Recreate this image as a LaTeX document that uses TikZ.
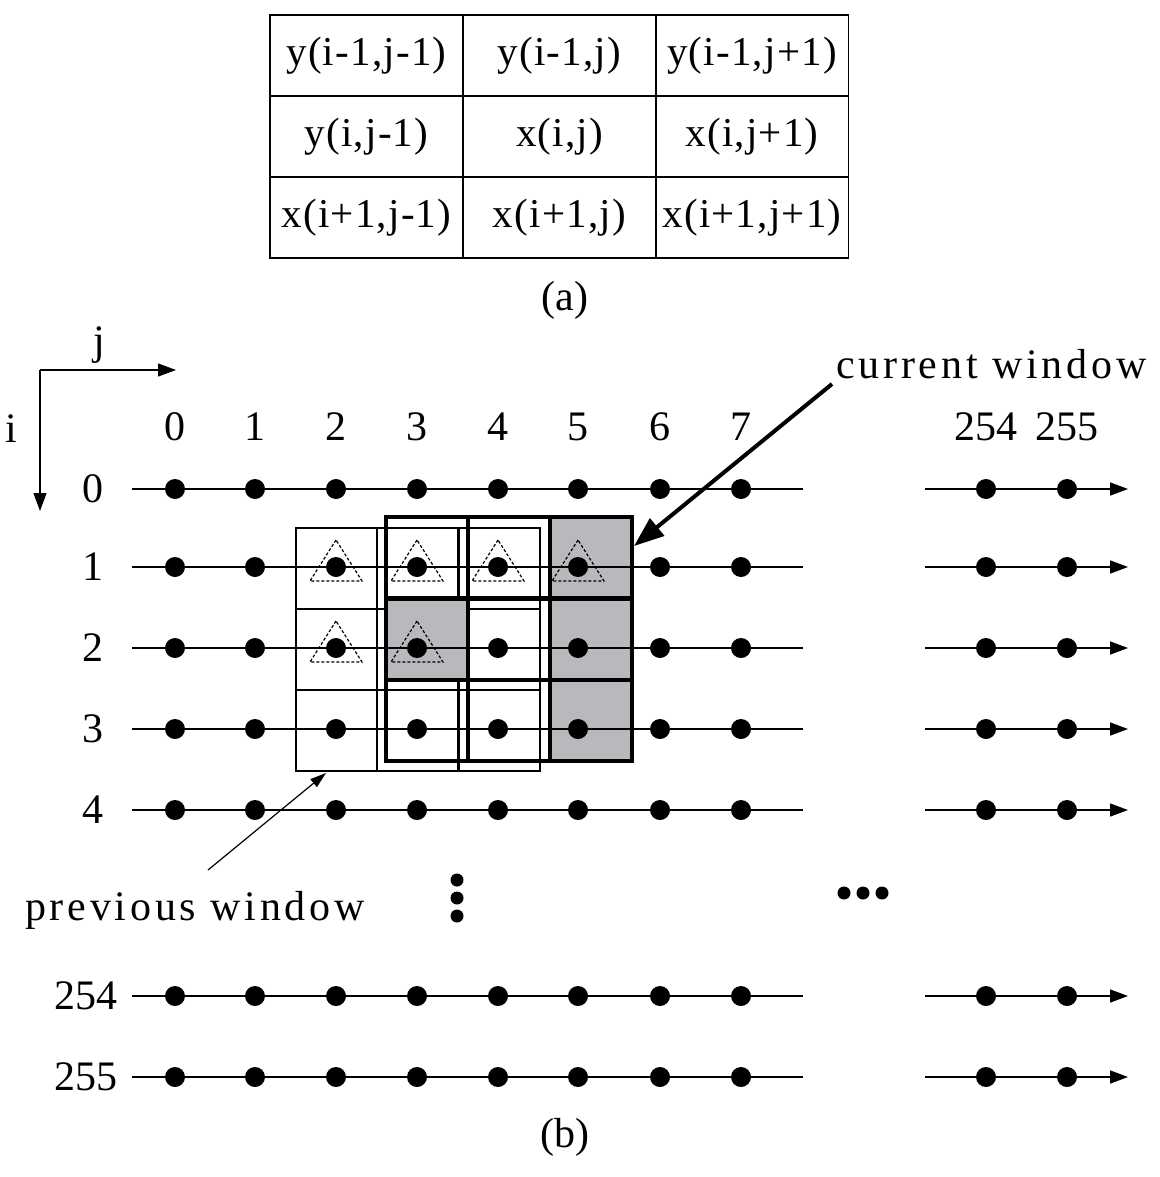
\documentclass[tikz,border=0pt]{standalone}
\usepackage{fontspec}
\setmainfont{Liberation Serif}
\newfontfamily\spacedfont[LetterSpace=9]{Liberation Serif}
\newfontfamily\tablefont[LetterSpace=3]{Liberation Serif}
\usetikzlibrary{arrows.meta,calc}
\definecolor{cellgray}{RGB}{184,185,189}
\begin{document}
\begin{tikzpicture}[x=1pt,y=-1pt,
  lbl/.style={font=\fontsize{42}{44}\selectfont, inner sep=0pt},
  cell/.style={draw, line width=1.2pt, minimum width=193pt, minimum height=81pt, inner sep=0pt, font=\tablefont\fontsize{41}{43}\selectfont},
  dot/.style={circle, fill=black, inner sep=0pt, minimum size=20pt},
  rowline/.style={line width=1.5pt},
  tiparrow/.style={-{Triangle[length=18pt,width=13pt]}},
  thinwin/.style={line width=1.2pt},
  thickwin/.style={line width=4pt},
  tri/.style={draw, line width=1.2pt, dash pattern=on 3pt off 2pt},
  smalldot/.style={circle, fill=black, inner sep=0pt, minimum size=13pt}
]
\useasboundingbox[fill=white] (0,0) rectangle (1159,1177);

% (a) table
\node[cell] (t11) at (366.5,55.5) {y(i-1,j-1)};
\node[cell] (t12) at (559.5,55.5) {y(i-1,j)};
\node[cell] (t13) at (752,55.5) {y(i-1,j+1)};
\node[cell] (t21) at (366.5,136.5) {y(i,j-1)};
\node[cell] (t22) at (559.5,136.5) {x(i,j)};
\node[cell] (t23) at (752,136.5) {x(i,j+1)};
\node[cell] (t31) at (366.5,217.5) {x(i+1,j-1)};
\node[cell] (t32) at (559.5,217.5) {x(i+1,j)};
\node[cell] (t33) at (752,217.5) {x(i+1,j+1)};
\node[lbl] (capa) at (565,300) {(a)};

% axes
\coordinate (orig) at (40,370);
\coordinate (jend) at (176,370);
\coordinate (iend) at (40,511);
\draw[line width=1.2pt, tiparrow] (orig) -- (jend);
\draw[line width=1.2pt, tiparrow] (orig) -- (iend);
\node[lbl, anchor=base] (jlab) at (99,354) {j};
\node[lbl, anchor=base] (ilab) at (11,442) {i};

% column labels
\foreach \c/\x in {0/175,1/255,2/336,3/417,4/498,5/578,6/660,7/741,254/986,255/1067}{
  \node[lbl] (cl\c) at (\x,427) {\c};
}

% previous window (thin)
\foreach \x in {296,377,459}{
  \foreach \y in {528,609,690}{
    \draw[thinwin] (\x,\y) rectangle ++(81,81);
  }
}
% gray cells of current window
\fill[cellgray] (550,517) rectangle (631,760);
\fill[cellgray] (386,599) rectangle (468,680);
% current window (thick)
\foreach \x in {386,468,550}{
  \foreach \y in {517,599,680}{
    \draw[thickwin] (\x,\y) rectangle ++(81.5,81);
  }
}

% rows
\foreach \r/\y/\lx in {0/489/104,1/567/104,2/648/104,3/729/104,4/810/104,254/996/118,255/1077/118}{
  \node[lbl, anchor=east] (rl\r) at (\lx,\y) {\r};
  \coordinate (a\r) at (132,\y);
  \coordinate (b\r) at (803,\y);
  \coordinate (c\r) at (925,\y);
  \coordinate (e\r) at (1128,\y);
  \draw[rowline] (a\r) -- (b\r);
  \draw[rowline, tiparrow] (c\r) -- (e\r);
  \foreach \c/\x in {0/175,1/255,2/336,3/417,4/498,5/578,6/660,7/741,254/986,255/1067}{
    \node[dot] (d\r-\c) at (\x,\y) {};
  }
}

% dashed triangles
\foreach \p in {1-2,1-3,1-4,1-5,2-2,2-3}{
  \draw[tri] ($(d\p)+(0,-27)$) -- ($(d\p)+(-26,14)$) -- ($(d\p)+(26,14)$) -- cycle;
}

% ellipses
\node[smalldot] (v1) at (457,880) {};
\node[smalldot] (v2) at (457,898) {};
\node[smalldot] (v3) at (457,916) {};
\node[smalldot] (h1) at (844,893) {};
\node[smalldot] (h2) at (863,893) {};
\node[smalldot] (h3) at (882,893) {};

% labels with arrows
\node[lbl, anchor=base west, font=\spacedfont\fontsize{42}{44}\selectfont] (cw) at (836,378) {current window};
\coordinate (cwstart) at (832,384);
\coordinate (cwtip) at (634,546);
\draw[line width=4pt, -{Triangle[length=30pt,width=22pt]}] (cwstart) -- (cwtip);

\node[lbl, font=\addfontfeature{LetterSpace=9}\fontsize{42}{44}\selectfont] (pw) at (195,910) {previous window};
\coordinate (pwstart) at (208,870);
\coordinate (pwtip) at (326,773);
\draw[line width=1.2pt, -{Triangle[length=16pt,width=10pt]}] (pwstart) -- (pwtip);

\node[lbl] (capb) at (565,1137) {(b)};
\end{tikzpicture}
\end{document}
